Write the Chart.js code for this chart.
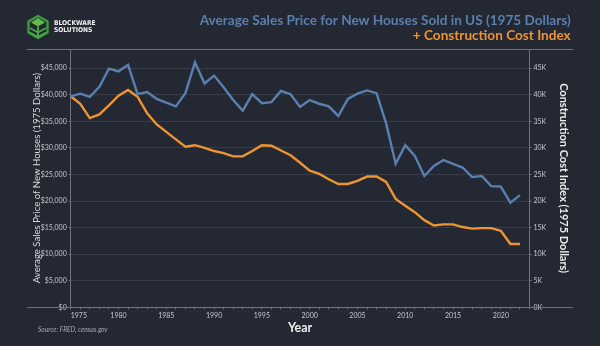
<!DOCTYPE html>
<html>
<head>
<meta charset="utf-8">
<script src="https://cdn.jsdelivr.net/npm/chart.js@4.4.0/dist/chart.umd.min.js"></script>
<style>
  html, body { margin: 0; padding: 0; background: #232833; }
  #wrap { width: 600px; height: 346px; }
</style>
</head>
<body>
<div id="wrap"><canvas id="chart" width="600" height="346"></canvas></div>
<script>
// Years on the horizontal axis
const years = [1975, 1976, 1977, 1978, 1979, 1980, 1981, 1982, 1983, 1984,
  1985, 1986, 1987, 1988, 1989, 1990, 1991, 1992, 1993, 1994,
  1995, 1996, 1997, 1998, 1999, 2000, 2001, 2002, 2003, 2004,
  2005, 2006, 2007, 2008, 2009, 2010, 2011, 2012, 2013, 2014,
  2015, 2016, 2017, 2018, 2019, 2020, 2021, 2022];

// Average sales price of new houses, 1975 dollars
const avgSalesPrice = [39700, 40200, 39600, 41500, 44900, 44400, 45600, 40100, 40500, 39200,
  38500, 37800, 40300, 46100, 42100, 43600, 41400, 39000, 37000, 40100,
  38400, 38600, 40700, 40100, 37700, 39000, 38300, 37800, 36000, 39200,
  40200, 40800, 40300, 34600, 27000, 30500, 28500, 24700, 26600, 27700,
  27000, 26300, 24500, 24700, 22800, 22700, 19700, 21100];

// Construction cost index, 1975 dollars
const constructionCost = [39700, 38300, 35600, 36300, 38000, 39800, 40900, 39600, 36500, 34400,
  33000, 31600, 30200, 30500, 30000, 29400, 29000, 28400, 28400, 29400,
  30500, 30400, 29500, 28600, 27200, 25700, 25100, 24100, 23200, 23200,
  23800, 24600, 24600, 23600, 20400, 19100, 17900, 16400, 15400, 15600,
  15600, 15100, 14800, 14900, 14900, 14400, 11900, 11900];

// Labelled years and value ticks
const xTickYears = [1975, 1980, 1985, 1990, 1995, 2000, 2005, 2010, 2015, 2020];
const valueTicks = [0, 5000, 10000, 15000, 20000, 25000, 30000, 35000, 40000, 45000];

const BG = '#232833';
const BLUE = '#5b7fae';
const ORANGE = '#ee9432';
const FONT = 'Lato, "Open Sans", "DejaVu Sans", sans-serif';

const toPoints = vals => years.map((yr, i) => ({ x: yr, y: vals[i] }));
const keepValueTicks = axis => {
  axis.ticks = valueTicks.map(v => ({ value: v }));
};

// Background, brand mark, frame lines and source note
const decor = {
  id: 'decor',
  beforeDraw(chart) {
    const ctx = chart.ctx;
    ctx.save();
    ctx.fillStyle = BG;
    ctx.fillRect(0, 0, chart.width, chart.height);

    // cube mark
    const cx = 38, cy = 27, r = 11;
    const hex = [];
    for (let k = 0; k < 6; k++) {
      const a = Math.PI / 6 + k * Math.PI / 3;
      hex.push([cx + r * Math.cos(a), cy + r * Math.sin(a)]);
    }
    ctx.lineJoin = 'round';
    ctx.strokeStyle = '#3f9a3f';
    ctx.lineWidth = 2.4;
    ctx.beginPath();
    hex.forEach(([x, y], k) => k ? ctx.lineTo(x, y) : ctx.moveTo(x, y));
    ctx.closePath();
    ctx.stroke();
    // top face
    ctx.fillStyle = '#62b94f';
    ctx.beginPath();
    ctx.moveTo(cx, cy - r + 2);
    ctx.lineTo(cx + 7, cy - 4.5);
    ctx.lineTo(cx, cy - 0.5);
    ctx.lineTo(cx - 7, cy - 4.5);
    ctx.closePath();
    ctx.fill();
    // stripes on the side faces
    ctx.strokeStyle = '#4aa843';
    ctx.lineWidth = 2;
    ctx.beginPath();
    ctx.moveTo(cx - 8, cy + 1); ctx.lineTo(cx, cy + 5.5); ctx.lineTo(cx + 8, cy + 1);
    ctx.moveTo(cx - 8, cy + 5.5); ctx.lineTo(cx, cy + 10); ctx.lineTo(cx + 8, cy + 5.5);
    ctx.moveTo(cx, cy - 0.5); ctx.lineTo(cx, cy + 10);
    ctx.stroke();

    ctx.fillStyle = '#f2f2f2';
    ctx.font = 'bold 6.6px "DejaVu Sans Condensed", "DejaVu Sans", sans-serif';
    ctx.textBaseline = 'middle';
    ctx.textAlign = 'left';
    ctx.fillText('BLOCKWARE', 54, 23.5);
    ctx.fillText('SOLUTIONS', 54, 30.5);

    ctx.fillStyle = '#a9adb4';
    ctx.font = 'italic 6.6px ' + FONT;
    ctx.fillText('Source: FRED, census.gov', 38, 330);
    ctx.restore();
  },
  afterDraw(chart) {
    const { ctx, chartArea } = chart;
    ctx.save();
    ctx.strokeStyle = '#6e737c';
    ctx.lineWidth = 1;
    ctx.beginPath();
    ctx.moveTo(27, Math.round(chartArea.top) + 0.5);
    ctx.lineTo(573, Math.round(chartArea.top) + 0.5);
    ctx.moveTo(27, Math.round(chartArea.bottom) + 0.5);
    ctx.lineTo(573, Math.round(chartArea.bottom) + 0.5);
    ctx.stroke();
    ctx.restore();
  }
};

new Chart(document.getElementById('chart'), {
  type: 'line',
  data: {
    datasets: [
      {
        label: 'Average Sales Price for New Houses Sold in US (1975 Dollars)',
        data: toPoints(avgSalesPrice),
        yAxisID: 'y',
        borderColor: BLUE,
        borderWidth: 2.4,
        pointRadius: 0,
        tension: 0
      },
      {
        label: 'Construction Cost Index',
        data: toPoints(constructionCost),
        yAxisID: 'y1',
        borderColor: ORANGE,
        borderWidth: 2.4,
        pointRadius: 0,
        tension: 0
      }
    ]
  },
  options: {
    responsive: false,
    animation: false,
    devicePixelRatio: 1,
    layout: { padding: { top: 0, left: 0, right: 29.3, bottom: 0 } },
    plugins: {
      legend: { display: false },
      tooltip: { enabled: false },
      title: {
        display: true,
        text: 'Average Sales Price for New Houses Sold in US (1975 Dollars)',
        align: 'end',
        color: BLUE,
        font: { family: FONT, size: 13.6, weight: 'bold', lineHeight: 1.0 },
        padding: { top: 14.2, bottom: 0 }
      },
      subtitle: {
        display: true,
        text: '+ Construction Cost Index',
        align: 'end',
        color: ORANGE,
        font: { family: FONT, size: 13.6, weight: 'bold', lineHeight: 1.0 },
        padding: { top: 1.4, bottom: 6.2 }
      }
    },
    scales: {
      x: {
        type: 'linear',
        min: 1975,
        max: 2023,
        afterFit: s => { s.height = 38.7; },
        afterBuildTicks: axis => {
          const t = [];
          for (let v = 1975; v <= 2023; v++) t.push({ value: v });
          axis.ticks = t;
        },
        ticks: {
          autoSkip: false,
          maxRotation: 0,
          align: 'inner',
          color: '#c5c8ce',
          font: { family: FONT, size: 7 },
          padding: 2,
          callback: v => xTickYears.includes(v) ? String(v) : ''
        },
        grid: { drawOnChartArea: false, tickLength: 2, tickColor: '#6e737c' },
        border: { color: '#6e737c' },
        title: {
          display: true,
          text: 'Year',
          color: '#eeeeee',
          font: { family: FONT, size: 12.5, weight: 'bold', lineHeight: 1.2 },
          padding: { top: 0, bottom: 11 }
        }
      },
      y: {
        position: 'left',
        min: 0,
        max: 48600,
        afterFit: s => { s.width = 70.7; },
        afterBuildTicks: keepValueTicks,
        ticks: {
          color: '#c5c8ce',
          font: { family: FONT, size: 7 },
          padding: 2,
          callback: v => '$' + v.toLocaleString('en-US')
        },
        grid: { color: '#373c47', tickLength: 2, tickColor: '#6e737c' },
        border: { color: '#6e737c' },
        title: {
          display: true,
          text: 'Average Sales Price of New Houses (1975 Dollars)',
          color: '#d6d8dc',
          font: { family: FONT, size: 9.6, lineHeight: 1.2 },
          padding: { top: 31.2, bottom: 0 }
        }
      },
      y1: {
        position: 'right',
        min: 0,
        max: 48600,
        afterFit: s => { s.width = 41.2; },
        afterBuildTicks: keepValueTicks,
        ticks: {
          color: '#c5c8ce',
          font: { family: FONT, size: 7 },
          padding: 2,
          callback: v => (v / 1000) + 'K'
        },
        grid: { drawOnChartArea: false, tickLength: 2, tickColor: '#6e737c' },
        border: { color: '#6e737c' },
        title: {
          display: true,
          text: 'Construction Cost Index (1975 Dollars)',
          color: '#eeeeee',
          font: { family: FONT, size: 11, weight: 'bold', lineHeight: 1.2 },
          padding: { top: 1, bottom: 0 }
        }
      }
    }
  },
  plugins: [decor]
});
</script>
</body>
</html>
